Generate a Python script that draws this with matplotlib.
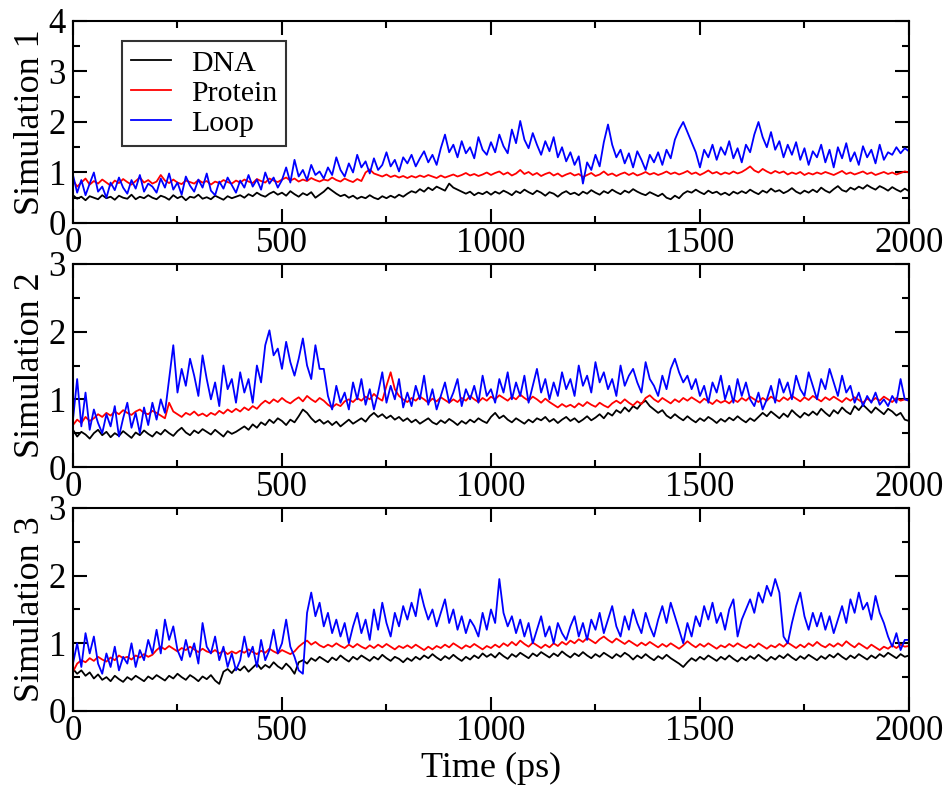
import matplotlib
matplotlib.use("Agg")
import matplotlib.pyplot as plt
import numpy as np
from matplotlib.ticker import MultipleLocator

plt.rcParams['font.family'] = ['Liberation Serif', 'DejaVu Serif']

# time axis, one sample every 10 ps
time_ps = np.arange(0, 2001, 10)

# --- Simulation 1 ---
sim1_dna = [
    0.55, 0.48, 0.52, 0.45, 0.53, 0.50, 0.47, 0.55, 0.49, 0.52, 0.46, 0.54, 0.50, 0.48, 0.56, 0.47, 0.52, 0.49, 0.55, 0.50,
    0.47, 0.54, 0.51, 0.46, 0.55, 0.49, 0.53, 0.45, 0.52, 0.50, 0.56, 0.48, 0.51, 0.47, 0.54, 0.50, 0.46, 0.53, 0.49, 0.52,
    0.55, 0.50, 0.57, 0.53, 0.60, 0.55, 0.52, 0.58, 0.62, 0.56, 0.60, 0.54, 0.63, 0.57, 0.52, 0.59, 0.55, 0.61, 0.50, 0.56,
    0.62, 0.70, 0.64, 0.58, 0.53, 0.56, 0.50, 0.54, 0.48, 0.52, 0.49, 0.55, 0.50, 0.47, 0.53, 0.49, 0.54, 0.50, 0.56, 0.52,
    0.58, 0.63, 0.60, 0.67, 0.62, 0.70, 0.65, 0.72, 0.68, 0.64, 0.78, 0.70, 0.66, 0.62, 0.58, 0.62, 0.55, 0.60, 0.57, 0.62,
    0.56, 0.62, 0.58, 0.64, 0.60, 0.55, 0.63, 0.59, 0.66, 0.61, 0.57, 0.64, 0.60, 0.54, 0.61, 0.58, 0.52, 0.59, 0.63, 0.57,
    0.60, 0.55, 0.62, 0.58, 0.65, 0.60, 0.56, 0.63, 0.59, 0.66, 0.61, 0.57, 0.64, 0.60, 0.67, 0.62, 0.58, 0.55, 0.61, 0.57,
    0.53, 0.58, 0.50, 0.47, 0.54, 0.49, 0.58, 0.63, 0.60, 0.66, 0.61, 0.57, 0.64, 0.59, 0.62, 0.56, 0.60, 0.55, 0.62, 0.58,
    0.63, 0.59, 0.66, 0.61, 0.57, 0.64, 0.60, 0.68, 0.62, 0.65, 0.59, 0.63, 0.69, 0.62, 0.58, 0.64, 0.60, 0.66, 0.61, 0.70,
    0.64, 0.60, 0.67, 0.73, 0.65, 0.62, 0.70, 0.66, 0.72, 0.68, 0.75, 0.70, 0.66, 0.73, 0.69, 0.64, 0.71, 0.66, 0.62, 0.68,
    0.63]
sim1_protein = [
    0.85, 0.72, 0.80, 0.88, 0.76, 0.83, 0.78, 0.86, 0.80, 0.74, 0.84, 0.79, 0.87, 0.81, 0.76, 0.83, 0.90, 0.80, 0.85, 0.78,
    0.82, 0.95, 0.84, 0.79, 0.86, 0.80, 0.77, 0.84, 0.81, 0.78, 0.85, 0.80, 0.83, 0.76, 0.82, 0.79, 0.85, 0.81, 0.78, 0.84,
    0.80, 0.86, 0.82, 0.79, 0.87, 0.83, 0.80, 0.88, 0.84, 0.81, 0.86, 0.90, 0.84, 0.88, 0.82, 0.86, 0.83, 0.89, 0.85, 0.82,
    0.86, 0.84, 0.90, 0.85, 0.82, 0.88, 0.84, 0.81, 0.87, 0.83, 1.00, 1.06, 0.98, 0.95, 0.92, 0.96, 0.91, 0.94, 0.90, 0.93,
    0.89, 0.93, 0.90, 0.94, 0.91, 0.95, 0.92, 0.89, 0.94, 0.90, 0.93, 0.96, 0.92, 0.95, 0.99, 0.94, 0.97, 0.93, 0.96, 1.00,
    0.95, 0.99, 1.02, 0.96, 1.00, 0.94, 0.98, 1.05, 0.97, 1.01, 0.95, 0.99, 0.93, 0.97, 1.00, 0.94, 0.98, 0.92, 0.96, 0.99,
    0.94, 0.97, 0.91, 0.95, 0.99, 0.93, 0.96, 1.02, 0.95, 0.98, 0.93, 0.97, 1.00, 0.95, 0.99, 0.94, 0.97, 1.01, 0.96, 0.99,
    0.95, 0.98, 1.02, 0.97, 1.00, 0.96, 0.99, 1.03, 0.97, 1.00, 0.95, 0.99, 1.04, 0.98, 1.01, 0.96, 1.00, 0.97, 1.02, 0.98,
    1.01, 1.06, 1.12, 1.04, 1.00, 1.07, 1.02, 0.98, 1.03, 0.99, 1.02, 0.96, 1.00, 0.97, 1.01, 0.95, 0.99, 0.96, 1.00, 0.97,
    1.01, 0.98, 0.95, 0.99, 1.03, 0.97, 1.00, 0.96, 0.99, 1.02, 0.97, 1.00, 0.95, 0.98, 1.01, 0.97, 1.00, 0.96, 0.99, 1.02,
    1.00]
sim1_loop = [
    0.95, 0.60, 0.85, 0.55, 0.78, 1.00, 0.62, 0.72, 0.50, 0.80, 0.65, 0.90, 0.70, 0.58, 0.85, 0.68, 0.95, 0.62, 0.78, 0.72,
    0.60, 0.88, 0.70, 0.98, 0.66, 0.80, 0.56, 0.92, 0.74, 0.62, 0.86, 0.70, 0.98, 0.64, 0.55, 0.82, 0.68, 0.90, 0.75, 0.60,
    0.84, 0.70, 0.95, 0.72, 0.86, 0.66, 1.00, 0.78, 0.90, 0.70, 0.85, 1.10, 0.80, 1.25, 0.92, 1.05, 0.85, 1.15, 0.95, 1.02,
    0.88, 1.10, 0.95, 1.30, 1.05, 0.92, 1.18, 1.00, 1.35, 1.10, 1.22, 0.98, 1.28, 1.05, 1.15, 1.40, 1.12, 1.25, 1.02, 1.30,
    1.18, 1.35, 1.12, 1.28, 1.42, 1.20, 1.35, 1.15, 1.48, 1.75, 1.40, 1.55, 1.30, 1.62, 1.38, 1.50, 1.28, 1.70, 1.45, 1.35,
    1.60, 1.40, 1.75, 1.52, 1.38, 1.85, 1.58, 2.02, 1.65, 1.48, 1.78, 1.55, 1.35, 1.62, 1.42, 1.70, 1.30, 1.50, 1.22, 1.40,
    1.15, 1.32, 0.78, 1.20, 1.05, 1.35, 1.12, 1.60, 1.95, 1.55, 1.30, 1.45, 1.18, 1.38, 1.10, 1.42, 1.25, 1.05, 1.35, 1.20,
    1.40, 1.15, 1.45, 1.28, 1.65, 1.85, 2.00, 1.80, 1.60, 1.40, 1.10, 1.45, 1.30, 1.55, 1.25, 1.50, 1.35, 1.62, 1.28, 1.48,
    1.20, 1.55, 1.40, 1.75, 2.00, 1.70, 1.50, 1.80, 1.45, 1.62, 1.30, 1.55, 1.35, 1.60, 1.25, 1.48, 1.15, 1.42, 1.30, 1.55,
    1.20, 1.45, 1.10, 1.50, 1.28, 1.58, 1.22, 1.40, 1.15, 1.52, 1.30, 1.45, 1.18, 1.55, 1.25, 1.40, 1.35, 1.50, 1.38, 1.48,
    1.42]

# --- Simulation 2 ---
sim2_dna = [
    0.55, 0.45, 0.52, 0.48, 0.42, 0.50, 0.55, 0.47, 0.52, 0.44, 0.50, 0.46, 0.53, 0.48, 0.43, 0.51, 0.47, 0.54, 0.49, 0.45,
    0.52, 0.48, 0.55, 0.50, 0.46, 0.53, 0.58, 0.51, 0.47, 0.54, 0.50, 0.56, 0.52, 0.48, 0.55, 0.50, 0.45, 0.53, 0.49, 0.52,
    0.56, 0.60, 0.55, 0.63, 0.58, 0.66, 0.62, 0.70, 0.65, 0.72, 0.68, 0.62, 0.70, 0.66, 0.75, 0.85, 0.80, 0.72, 0.66, 0.70,
    0.64, 0.68, 0.62, 0.67, 0.60, 0.65, 0.70, 0.64, 0.68, 0.72, 0.67, 0.75, 0.80, 0.74, 0.78, 0.72, 0.76, 0.70, 0.74, 0.68,
    0.72, 0.66, 0.70, 0.64, 0.68, 0.72, 0.66, 0.63, 0.69, 0.65, 0.71, 0.67, 0.62, 0.68, 0.64, 0.70, 0.66, 0.72, 0.68, 0.65,
    0.74, 0.80, 0.72, 0.76, 0.70, 0.66, 0.72, 0.68, 0.64, 0.70, 0.66, 0.72, 0.69, 0.74, 0.67, 0.71, 0.65, 0.70, 0.74, 0.68,
    0.72, 0.66, 0.70, 0.75, 0.69, 0.73, 0.78, 0.72, 0.80, 0.76, 0.84, 0.80, 0.88, 0.82, 0.90, 0.86, 0.94, 0.98, 0.90, 0.85,
    0.80, 0.84, 0.76, 0.72, 0.78, 0.73, 0.69, 0.75, 0.70, 0.66, 0.72, 0.68, 0.74, 0.70, 0.65, 0.71, 0.67, 0.73, 0.69, 0.75,
    0.70, 0.66, 0.72, 0.68, 0.74, 0.80, 0.75, 0.82, 0.77, 0.72, 0.79, 0.74, 0.84, 0.78, 0.73, 0.80, 0.76, 0.82, 0.77, 0.86,
    0.80, 0.75, 0.84, 0.79, 0.88, 0.82, 0.78, 0.90, 0.84, 0.92, 0.86, 0.80, 0.88, 0.83, 0.78, 0.86, 0.82, 0.76, 0.80, 0.70,
    0.68]
sim2_protein = [
    0.62, 0.70, 0.65, 0.74, 0.68, 0.72, 0.78, 0.74, 0.80, 0.76, 0.82, 0.78, 0.84, 0.80, 0.77, 0.82, 0.85, 0.80, 0.78, 0.83,
    0.80, 0.76, 0.72, 0.95, 0.82, 0.78, 0.74, 0.80, 0.77, 0.82, 0.76, 0.79, 0.75, 0.80, 0.77, 0.83, 0.79, 0.85, 0.81, 0.86,
    0.82, 0.88, 0.84, 0.90, 0.86, 0.93, 0.98, 0.94, 1.00, 0.96, 1.02, 0.97, 0.94, 0.99, 1.03, 0.97, 1.05, 1.00, 0.96, 1.02,
    0.98, 0.92, 0.88, 0.93, 0.90, 0.97, 1.00, 0.96, 1.02, 0.98, 1.04, 1.00, 1.08, 1.02, 0.98, 1.20, 1.40, 1.15, 1.05, 1.00,
    0.96, 1.02, 0.98, 1.04, 1.00, 0.95, 1.01, 0.97, 1.03, 0.99, 0.95, 1.00, 0.96, 1.02, 0.98, 1.05, 1.00, 0.96, 1.02, 0.98,
    1.04, 1.00, 1.06, 1.02, 0.98, 1.04, 1.00, 1.07, 1.02, 0.98, 1.04, 1.00, 0.95, 1.01, 0.96, 0.92, 0.88, 0.93, 0.89, 0.92,
    0.88, 0.94, 0.90, 0.96, 0.92, 0.89, 0.95, 0.91, 0.88, 0.94, 0.98, 0.94, 1.00, 0.95, 0.91, 0.97, 0.93, 1.02, 1.06, 1.00,
    0.96, 1.02, 0.98, 0.94, 1.00, 0.96, 1.02, 0.98, 1.03, 0.99, 0.95, 1.01, 0.97, 0.93, 0.99, 0.95, 0.98, 0.94, 1.00, 0.96,
    1.02, 0.98, 1.04, 1.00, 0.96, 1.02, 0.98, 1.04, 1.00, 0.97, 1.03, 0.99, 1.05, 1.01, 0.97, 1.03, 0.99, 1.05, 1.01, 0.97,
    1.03, 0.99, 1.04, 1.00, 0.96, 1.02, 0.98, 1.03, 0.99, 0.95, 1.01, 0.97, 1.02, 0.98, 1.04, 1.00, 0.96, 1.02, 0.98, 1.00,
    0.98]
sim2_loop = [
    0.70, 1.30, 0.60, 1.10, 0.55, 0.85, 0.65, 0.50, 0.78, 0.60, 0.90, 0.45, 0.72, 0.95, 0.58, 0.80, 0.50, 0.88, 0.62, 0.95,
    0.70, 1.00, 0.80, 1.30, 1.80, 1.10, 1.45, 1.20, 1.60, 1.35, 1.05, 1.65, 1.30, 1.00, 1.25, 0.90, 1.50, 1.15, 1.30, 0.95,
    1.40, 1.10, 1.30, 0.95, 1.50, 1.25, 1.80, 2.02, 1.65, 1.75, 1.45, 1.85, 1.55, 1.35, 1.60, 1.90, 1.50, 1.30, 1.80, 1.45,
    1.45, 1.05, 0.85, 1.20, 0.95, 1.10, 0.85, 1.25, 1.00, 1.30, 0.92, 1.15, 0.85, 1.10, 1.40, 0.95, 1.20, 1.00, 1.30, 0.88,
    1.10, 0.90, 1.20, 1.00, 1.35, 0.92, 1.15, 0.85, 1.05, 1.25, 0.95, 1.10, 1.30, 0.90, 1.15, 1.00, 1.20, 0.95, 1.35, 1.05,
    1.15, 0.95, 1.30, 1.10, 1.40, 1.00, 1.25, 1.05, 1.35, 0.95, 1.20, 1.45, 1.10, 1.30, 1.00, 1.25, 1.05, 1.40, 1.15, 1.30,
    1.05, 1.50, 1.20, 1.35, 1.10, 1.55, 1.25, 1.40, 1.15, 1.30, 1.05, 1.50, 1.20, 1.35, 1.45, 1.25, 1.10, 1.55, 1.30, 1.20,
    1.05, 1.35, 1.15, 1.45, 1.60, 1.40, 1.25, 1.35, 1.15, 1.30, 1.05, 1.20, 0.95, 1.25, 1.10, 1.35, 1.00, 1.20, 0.95, 1.30,
    1.05, 1.25, 1.00, 0.90, 1.10, 0.85, 1.00, 1.20, 0.95, 1.30, 1.10, 1.25, 1.00, 1.35, 1.15, 1.05, 1.40, 1.20, 1.00, 1.30,
    1.15, 1.45, 1.25, 1.05, 1.35, 1.10, 1.20, 0.95, 1.10, 0.90, 1.05, 0.95, 1.10, 0.92, 1.00, 0.90, 1.05, 0.95, 1.30, 1.00,
    0.98]

# --- Simulation 3 ---
sim3_dna = [
    0.62, 0.55, 0.60, 0.52, 0.57, 0.48, 0.54, 0.46, 0.50, 0.44, 0.52, 0.47, 0.43, 0.50, 0.46, 0.52, 0.48, 0.44, 0.51, 0.47,
    0.53, 0.49, 0.45, 0.52, 0.48, 0.55, 0.50, 0.46, 0.53, 0.49, 0.44, 0.51, 0.47, 0.53, 0.45, 0.40, 0.58, 0.62, 0.56, 0.64,
    0.60, 0.66, 0.58, 0.64, 0.70, 0.62, 0.68, 0.64, 0.72, 0.66, 0.62, 0.70, 0.64, 0.55, 0.72, 0.75, 0.70, 0.78, 0.74, 0.80,
    0.76, 0.72, 0.79, 0.75, 0.82, 0.77, 0.73, 0.80, 0.76, 0.82, 0.78, 0.74, 0.80, 0.76, 0.83, 0.78, 0.74, 0.80, 0.77, 0.72,
    0.78, 0.74, 0.80, 0.76, 0.82, 0.78, 0.84, 0.79, 0.75, 0.81, 0.77, 0.83, 0.78, 0.74, 0.80, 0.76, 0.82, 0.78, 0.85, 0.80,
    0.84, 0.79, 0.86, 0.81, 0.77, 0.84, 0.80, 0.86, 0.82, 0.78, 0.85, 0.81, 0.87, 0.83, 0.79, 0.85, 0.81, 0.88, 0.83, 0.79,
    0.85, 0.81, 0.87, 0.82, 0.78, 0.84, 0.80, 0.86, 0.82, 0.78, 0.84, 0.80, 0.86, 0.82, 0.76, 0.82, 0.78, 0.84, 0.79, 0.75,
    0.81, 0.77, 0.83, 0.78, 0.74, 0.70, 0.65, 0.72, 0.78, 0.74, 0.80, 0.76, 0.82, 0.78, 0.74, 0.80, 0.76, 0.82, 0.77, 0.73,
    0.79, 0.75, 0.81, 0.77, 0.83, 0.78, 0.74, 0.80, 0.76, 0.82, 0.78, 0.84, 0.79, 0.75, 0.81, 0.77, 0.83, 0.79, 0.75, 0.81,
    0.77, 0.83, 0.79, 0.85, 0.80, 0.76, 0.82, 0.78, 0.84, 0.80, 0.76, 0.82, 0.78, 0.84, 0.80, 0.86, 0.82, 0.78, 0.84, 0.80,
    0.82]
sim3_protein = [
    0.58, 0.70, 0.75, 0.72, 0.78, 0.74, 0.80, 0.76, 0.73, 0.79, 0.75, 0.82, 0.78, 0.80, 0.76, 0.82, 0.79, 0.84, 0.80, 0.83,
    0.90, 0.95, 0.91, 0.96, 0.92, 0.88, 0.93, 0.90, 0.95, 0.91, 0.87, 0.92, 0.88, 0.86, 0.90, 0.85, 0.89, 0.84, 0.88, 0.85,
    0.89, 0.86, 0.91, 0.87, 0.84, 0.89, 0.86, 0.92, 0.88, 0.85, 0.90, 0.87, 0.84, 0.88, 0.95, 1.00, 1.04, 0.98, 1.02, 0.97,
    0.94, 0.98, 0.95, 1.00, 0.96, 0.93, 0.98, 0.94, 0.99, 0.95, 0.92, 0.97, 0.93, 0.98, 0.94, 0.99, 0.95, 0.91, 0.96, 0.93,
    0.97, 0.93, 0.98, 0.94, 0.90, 0.95, 0.91, 0.96, 0.93, 0.98, 0.94, 1.00, 0.96, 0.92, 0.97, 0.94, 0.99, 0.95, 0.91, 0.96,
    0.93, 0.98, 0.94, 1.00, 0.96, 1.02, 0.97, 1.04, 0.99, 0.95, 1.01, 0.97, 0.93, 0.98, 0.94, 1.00, 0.96, 1.02, 0.98, 1.04,
    1.00, 1.06, 1.02, 1.08, 1.04, 1.00, 1.06, 1.10, 1.05, 1.01, 1.07, 1.03, 0.99, 1.04, 1.00, 0.96, 1.01, 0.97, 1.02, 0.98,
    0.94, 0.99, 0.95, 1.00, 0.96, 0.92, 0.97, 1.03, 0.98, 0.94, 0.99, 0.95, 1.00, 0.96, 0.92, 0.97, 0.94, 0.99, 0.95, 1.00,
    0.96, 0.93, 0.98, 0.94, 1.00, 0.96, 0.92, 0.97, 0.94, 0.99, 0.95, 1.01, 0.97, 0.93, 0.98, 0.94, 1.00, 0.96, 1.02, 0.97,
    0.94, 0.99, 0.95, 1.00, 0.96, 1.03, 0.98, 0.94, 1.00, 0.96, 0.92, 0.98, 0.94, 0.90, 0.95, 0.92, 0.97, 0.93, 0.98, 0.95,
    0.96]
sim3_loop = [
    0.70, 1.00, 0.65, 1.15, 0.85, 1.10, 0.70, 0.55, 0.85, 0.65, 0.95, 0.60, 0.80, 0.70, 1.00, 0.65, 0.90, 0.75, 1.05, 0.85,
    1.20, 0.85, 1.35, 1.05, 1.25, 0.90, 0.75, 1.05, 0.80, 1.00, 0.70, 1.30, 0.95, 0.85, 1.10, 0.75, 0.95, 0.65, 0.85, 0.60,
    0.75, 1.10, 0.80, 0.95, 0.65, 1.05, 0.75, 0.90, 1.20, 0.85, 1.00, 1.35, 0.95, 0.80, 0.60, 0.55, 1.45, 1.75, 1.40, 1.60,
    1.25, 1.45, 1.15, 1.35, 1.10, 1.30, 1.00, 1.25, 1.45, 1.15, 1.35, 1.05, 1.50, 1.20, 1.60, 1.30, 1.10, 1.45, 1.25, 1.55,
    1.35, 1.60, 1.40, 1.80, 1.55, 1.35, 1.50, 1.25, 1.45, 1.65, 1.30, 1.50, 1.20, 1.40, 1.15, 1.35, 1.25, 1.10, 1.45, 1.20,
    1.50, 1.30, 1.95, 1.45, 1.25, 1.40, 1.15, 1.35, 1.10, 1.30, 1.00, 1.20, 1.40, 1.10, 1.25, 1.00, 1.30, 1.15, 1.05, 1.25,
    1.40, 1.10, 1.30, 1.05, 1.35, 1.20, 1.45, 1.15, 1.35, 1.55, 1.25, 1.10, 1.40, 1.20, 1.50, 1.30, 1.15, 1.45, 1.25, 1.10,
    1.35, 1.55, 1.30, 1.60, 1.40, 1.20, 1.00, 1.30, 1.10, 1.40, 1.25, 1.55, 1.35, 1.60, 1.30, 1.45, 1.20, 1.50, 1.65, 1.10,
    1.35, 1.50, 1.65, 1.45, 1.75, 1.60, 1.85, 1.70, 1.95, 1.75, 1.10, 1.00, 1.30, 1.55, 1.75, 1.40, 1.20, 1.45, 1.25, 1.45,
    1.20, 1.40, 1.15, 1.35, 1.55, 1.30, 1.65, 1.45, 1.75, 1.50, 1.60, 1.35, 1.70, 1.45, 1.30, 1.10, 0.95, 1.15, 0.90, 1.05,
    1.05]

panels = [
    ("Simulation 1", sim1_dna, sim1_protein, sim1_loop, 4),
    ("Simulation 2", sim2_dna, sim2_protein, sim2_loop, 3),
    ("Simulation 3", sim3_dna, sim3_protein, sim3_loop, 3),
]

fig = plt.figure(figsize=(9.49, 7.89), dpi=100)
# axes rectangles [left, bottom, width, height] in figure fraction
rects = [
    [0.0769, 0.7174, 0.8809, 0.2560],
    [0.0769, 0.4081, 0.8809, 0.2573],
    [0.0769, 0.0989, 0.8809, 0.2573],
]

for i, (name, dna, prot, loop, ytop) in enumerate(panels):
    ax = fig.add_axes(rects[i])
    ax.plot(time_ps, dna, color='black', lw=1.3, label='DNA')
    ax.plot(time_ps, prot, color='red', lw=1.3, label='Protein')
    ax.plot(time_ps, loop, color='blue', lw=1.3, label='Loop')
    ax.set_xlim(0, 2000)
    ax.set_ylim(0, ytop)
    ax.xaxis.set_major_locator(MultipleLocator(500))
    ax.xaxis.set_minor_locator(MultipleLocator(250))
    ax.yaxis.set_major_locator(MultipleLocator(1))
    ax.yaxis.set_minor_locator(MultipleLocator(0.5))
    ax.tick_params(which='both', direction='in', top=True, right=True,
                   labelsize=25, width=1.5)
    ax.tick_params(axis='x', pad=3)
    ax.tick_params(axis='y', pad=5)
    ax.tick_params(which='major', length=10)
    ax.tick_params(which='minor', length=5)
    for sp in ax.spines.values():
        sp.set_linewidth(1.5)
    ax.set_ylabel(name, fontsize=26, labelpad=1)
    if i == 0:
        leg = ax.legend(loc='upper left', bbox_to_anchor=(0.0586, 0.901),
                        borderaxespad=0, fancybox=False, fontsize=21.5,
                        handlelength=1.35, handletextpad=0.65, labelspacing=0.1,
                        borderpad=0.3)
        leg.get_frame().set_edgecolor('black')
        leg.get_frame().set_linewidth(1.5)
    if i == 2:
        ax.set_xlabel("Time (ps)", fontsize=26, labelpad=3)

fig.savefig("out.png", dpi=100)
